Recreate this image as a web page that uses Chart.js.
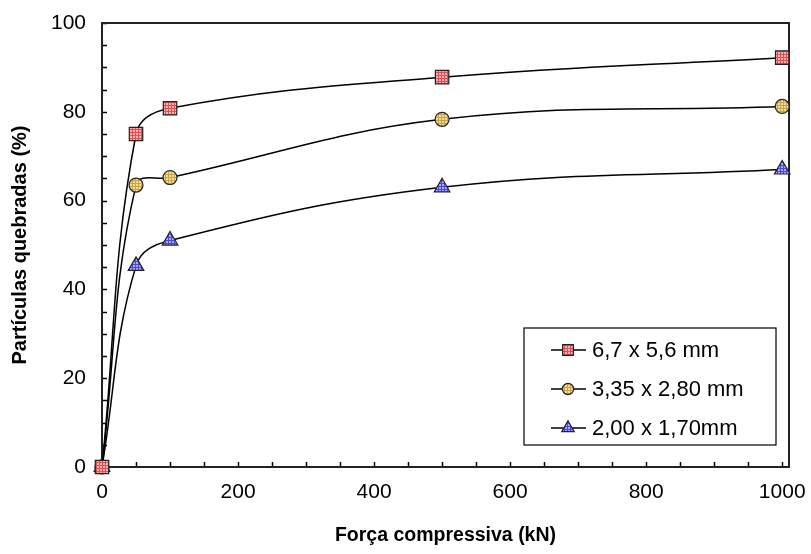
<!DOCTYPE html>
<html>
<head>
<meta charset="utf-8">
<script src="https://cdn.jsdelivr.net/npm/chart.js@4"></script>
<style>
  body { margin: 0; background: #fff; }
  #wrap { width: 811px; height: 554px; }
</style>
</head>
<body>
<div id="wrap"><canvas id="c"></canvas></div>
<script>
const forces = [0, 50, 100, 500, 1000];
const serieA = [0, 75, 80.8, 87.8, 92.2];
const serieB = [0, 63.5, 65.2, 78.3, 81.2];
const serieC = [0, 45.3, 51, 63, 67];
const seriesNames = ['6,7 x 5,6 mm', '3,35 x 2,80 mm', '2,00 x 1,70mm'];
const xTicks = [0, 200, 400, 600, 800, 1000];
const yTicks = [0, 20, 40, 60, 80, 100];

const FONT = "'Liberation Sans', Arial, sans-serif";
const canvas = document.getElementById('c');
const mainCtx = canvas.getContext('2d');

function makePattern(bg, line) {
    const c = document.createElement('canvas');
    c.width = 3; c.height = 3;
    const g = c.getContext('2d');
    g.fillStyle = bg;
    g.fillRect(0, 0, 3, 3);
    g.fillStyle = line;
    g.fillRect(0, 0, 3, 1);
    g.fillRect(0, 0, 1, 3);
    return mainCtx.createPattern(c, 'repeat');
}

const styles = [
    { pointStyle: 'rect', radius: 9.5, fill: makePattern('#f8b4b4', '#e05050') },
    { pointStyle: 'circle', radius: 7, fill: makePattern('#f2dc98', '#c8a448') },
    { pointStyle: 'triangle', radius: 9, fill: makePattern('#a8a8ff', '#4848e0') }
];

function toPoints(vals) {
    return forces.map((f, i) => ({ x: f, y: vals[i] }));
}

const datasets = [serieA, serieB, serieC].map((vals, i) => ({
    label: seriesNames[i],
    data: toPoints(vals),
    borderColor: '#000',
    borderWidth: 1.5,
    tension: 0.4,
    pointStyle: styles[i].pointStyle,
    pointRadius: styles[i].radius,
    pointBackgroundColor: styles[i].fill,
    pointBorderColor: '#222',
    pointBorderWidth: 1.2,
    clip: false
}));

// moldura + marcas internas dos eixos
const frame = {
    id: 'frame',
    beforeDatasetsDraw(chart) {
        const { ctx, chartArea: a, scales } = chart;
        ctx.save();
        ctx.strokeStyle = '#000';
        ctx.lineWidth = 1.5;
        ctx.beginPath();
        for (let v = 0; v <= 100; v += 5) {
            const y = Math.round(scales.y.getPixelForValue(v)) + 0.5;
            ctx.moveTo(a.left, y);
            ctx.lineTo(a.left + 5, y);
        }
        for (let v = 0; v <= 1000; v += 50) {
            const x = Math.round(scales.x.getPixelForValue(v)) + 0.5;
            ctx.moveTo(x, a.bottom);
            ctx.lineTo(x, a.bottom - 5);
        }
        ctx.stroke();
        ctx.lineWidth = 2;
        ctx.strokeStyle = '#222';
        ctx.strokeRect(a.left, a.top, a.right - a.left, a.bottom - a.top);
        ctx.restore();
    }
};

const boxLegend = {
    id: 'boxLegend',
    afterDraw(chart) {
        const { ctx, chartArea: a } = chart;
        const left = a.right - 265, top = a.bottom - 139;
        ctx.save();
        ctx.strokeStyle = '#000';
        ctx.lineWidth = 1.2;
        ctx.strokeRect(left, top, 252, 117);
        ctx.font = '22px ' + FONT;
        ctx.textBaseline = 'middle';
        ctx.fillStyle = '#000';
        seriesNames.forEach((name, i) => {
            const y = top + 22 + i * 39;
            ctx.beginPath();
            ctx.lineWidth = 1.5;
            ctx.strokeStyle = '#000';
            ctx.moveTo(left + 27, y);
            ctx.lineTo(left + 62, y);
            ctx.stroke();
            ctx.fillStyle = styles[i].fill;
            ctx.strokeStyle = '#222';
            ctx.lineWidth = 1.2;
            Chart.helpers.drawPoint(ctx, {
                pointStyle: styles[i].pointStyle,
                radius: styles[i].radius * 0.8,
                rotation: 0,
                borderWidth: 1.2
            }, left + 44, y);
            ctx.fillStyle = '#000';
            ctx.fillText(name, left + 68, y + 1);
        });
        ctx.restore();
    }
};

new Chart(canvas, {
    type: 'line',
    data: { datasets: datasets },
    options: {
        responsive: true,
        maintainAspectRatio: false,
        animation: false,
        layout: { padding: { top: 23, right: 22, left: 0, bottom: 0 } },
        plugins: {
            legend: { display: false },
            tooltip: { enabled: false }
        },
        scales: {
            x: {
                type: 'linear',
                min: 0,
                max: 1010,
                afterBuildTicks: (s) => { s.ticks = xTicks.map(v => ({ value: v })); },
                afterFit: (s) => { s.height = 87; s.paddingLeft = 0; s.paddingRight = 0; },
                grid: { display: false, drawTicks: false },
                border: { display: false },
                ticks: {
                    color: '#000', padding: 13, maxRotation: 0,
                    font: { family: FONT, size: 21 },
                    callback: (v) => String(v)
                },
                title: {
                    display: true,
                    text: 'Força compressiva (kN)',
                    color: '#000',
                    padding: { top: 0, bottom: 7 },
                    font: { family: FONT, size: 19.5, weight: 'bold' }
                }
            },
            y: {
                min: 0,
                max: 100,
                afterBuildTicks: (s) => { s.ticks = yTicks.map(v => ({ value: v })); },
                afterFit: (s) => { s.width = 102; s.paddingTop = 0; s.paddingBottom = 0; },
                grid: { display: false, drawTicks: false },
                border: { display: false },
                ticks: { color: '#000', padding: 16, font: { family: FONT, size: 21 } },
                title: {
                    display: true,
                    text: 'Partículas quebradas (%)',
                    color: '#000',
                    padding: { top: 8, bottom: 0 },
                    font: { family: FONT, size: 20, weight: 'bold' }
                }
            }
        }
    },
    plugins: [frame, boxLegend]
});
</script>
</body>
</html>
